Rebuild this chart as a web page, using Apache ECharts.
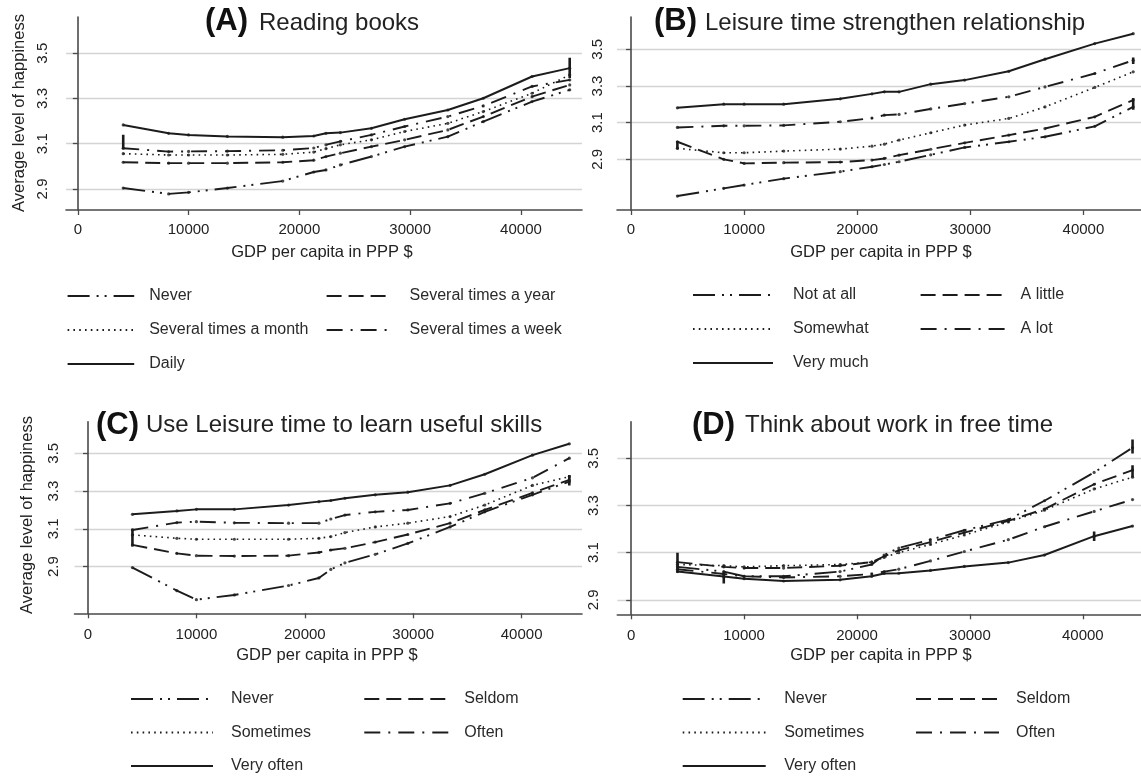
<!DOCTYPE html>
<html><head><meta charset="utf-8">
<script src="https://cdn.jsdelivr.net/npm/echarts@6/dist/echarts.min.js"></script>
<style>html,body{margin:0;padding:0;background:#fff}#c{width:1141px;height:778px}</style>
</head><body><div id="c"></div>
<script>
// ---------- data ----------
const gdp = [4100, 8200, 10000, 13500, 18500, 21300, 22400, 23700, 26500, 29500, 33400, 36600, 41000, 44400];
const xTickValues = [0, 10000, 20000, 30000, 40000];
const yTickValues = [2.9, 3.1, 3.3, 3.5];

const titlesTag = ['(A)', '(B)', '(C)', '(D)'];
const titlesText = ['Reading books', 'Leisure time strengthen relationship', 'Use Leisure time to learn useful skills', 'Think about work in free time'];
const xAxisTitle = 'GDP per capita in PPP $';
const yAxisTitle = 'Average level of happiness';

const aNames = ['Never', 'Several times a year', 'Several times a month', 'Several times a week', 'Daily'];
const aNever = [2.904, 2.878, 2.885, 2.904, 2.935, 2.975, 2.984, 3.006, 3.043, 3.087, 3.131, 3.198, 3.286, 3.338];
const aYear  = [3.018, 3.014, 3.014, 3.014, 3.018, 3.027, 3.043, 3.058, 3.087, 3.117, 3.161, 3.220, 3.308, 3.360];
const aMonth = [3.056, 3.050, 3.050, 3.050, 3.053, 3.063, 3.078, 3.095, 3.117, 3.154, 3.190, 3.242, 3.323, 3.404];
const aWeek  = [3.080, 3.065, 3.066, 3.067, 3.071, 3.081, 3.095, 3.110, 3.139, 3.176, 3.220, 3.267, 3.353, 3.382];
const aDaily = [3.183, 3.146, 3.139, 3.132, 3.129, 3.134, 3.146, 3.149, 3.168, 3.208, 3.249, 3.301, 3.397, 3.434];

const bNames = ['Not at all', 'A little', 'Somewhat', 'A lot', 'Very much'];
const bNot    = [2.700, 2.742, 2.760, 2.795, 2.833, 2.860, 2.872, 2.887, 2.925, 2.965, 2.996, 3.023, 3.080, 3.186];
const bLittle = [2.996, 2.900, 2.878, 2.882, 2.885, 2.896, 2.905, 2.923, 2.955, 2.990, 3.032, 3.068, 3.132, 3.223];
const bSome   = [2.960, 2.936, 2.936, 2.945, 2.956, 2.972, 2.983, 3.005, 3.045, 3.087, 3.123, 3.186, 3.292, 3.377];
const bLot    = [3.074, 3.083, 3.083, 3.085, 3.105, 3.125, 3.141, 3.145, 3.175, 3.204, 3.241, 3.295, 3.368, 3.440];
const bVery   = [3.181, 3.201, 3.201, 3.201, 3.230, 3.257, 3.268, 3.268, 3.310, 3.332, 3.380, 3.446, 3.531, 3.585];

const cNames = ['Never', 'Seldom', 'Sometimes', 'Often', 'Very often'];
const cNever  = [2.895, 2.773, 2.725, 2.750, 2.800, 2.840, 2.885, 2.920, 2.965, 3.023, 3.110, 3.190, 3.280, 3.350];
const cSeldom = [3.015, 2.970, 2.958, 2.956, 2.958, 2.975, 2.988, 2.997, 3.030, 3.070, 3.130, 3.200, 3.290, 3.359];
const cSome   = [3.068, 3.050, 3.045, 3.045, 3.045, 3.050, 3.059, 3.080, 3.110, 3.130, 3.165, 3.226, 3.330, 3.376];
const cOften  = [3.094, 3.133, 3.138, 3.132, 3.130, 3.130, 3.152, 3.173, 3.190, 3.200, 3.235, 3.288, 3.370, 3.474];
const cVery   = [3.177, 3.195, 3.203, 3.203, 3.226, 3.244, 3.250, 3.262, 3.280, 3.294, 3.330, 3.389, 3.490, 3.550];

const dNames = ['Never', 'Seldom', 'Sometimes', 'Often', 'Very often'];
const dNever  = [3.040, 3.020, 3.000, 3.000, 3.020, 3.050, 3.090, 3.120, 3.155, 3.195, 3.240, 3.320, 3.440, 3.545];
const dSeldom = [3.060, 3.040, 3.035, 3.035, 3.045, 3.060, 3.085, 3.110, 3.145, 3.185, 3.235, 3.285, 3.390, 3.450];
const dSome   = [3.050, 3.045, 3.040, 3.045, 3.050, 3.060, 3.080, 3.100, 3.135, 3.175, 3.230, 3.280, 3.370, 3.420];
const dOften  = [3.030, 3.010, 3.000, 2.995, 3.000, 3.010, 3.020, 3.030, 3.065, 3.105, 3.155, 3.210, 3.275, 3.325];
const dVery   = [3.020, 2.999, 2.990, 2.980, 2.985, 3.000, 3.012, 3.013, 3.025, 3.042, 3.058, 3.090, 3.170, 3.213];

// short vertical end bars seen on the curves: [panel, gdp, low, high]
const endBars = [
  [0, 4100, 3.075, 3.140], [0, 44400, 3.390, 3.480],
  [1, 4100, 2.955, 3.000], [1, 44400, 3.420, 3.455], [1, 44400, 3.170, 3.235],
  [2, 4100, 3.006, 3.100], [2, 44400, 3.330, 3.385],
  [3, 4100, 3.015, 3.100], [3, 8200, 2.970, 3.020], [3, 41000, 3.150, 3.190],
  [3, 44400, 3.520, 3.580], [3, 44400, 3.420, 3.470]
];

// ---------- layout & styles ----------
const panelSeries = [
  [aNever, aYear, aMonth, aWeek, aDaily],
  [bNot, bLittle, bSome, bLot, bVery],
  [cNever, cSeldom, cSome, cOften, cVery],
  [dNever, dSeldom, dSome, dOften, dVery]
];
const panelNames = [aNames, bNames, cNames, dNames];

const layout = [
  {grid: {left: 66, top: 17, width: 516, height: 193}, x: [-1065, 45510], y: [2.807, 3.660], ylm: 16, xlm: 12,
   tag: [205, 21], title: [259, 23.5], xt: [322, 252], yt: [19, 113],
   leg: [{left: 66.6, w: 66.6, pad: 10}, {left: 325.6, w: 66, pad: 12}], legTop: 288, legGap: 18},
  {grid: {left: 617, top: 17, width: 524, height: 193}, x: [-1240, 45090], y: [2.624, 3.676], ylm: 12, xlm: 12,
   tag: [654, 21], title: [705, 23.5], xt: [881, 252], yt: null,
   leg: [{left: 692, w: 80, pad: 15}, {left: 919.6, w: 84, pad: 11}], legTop: 287, legGap: 18},
  {grid: {left: 74.5, top: 421.7, width: 507.5, height: 191.6}, x: [-1245, 45570], y: [2.653, 3.667], ylm: 13, xlm: 14,
   tag: [96, 425], title: [146, 425], xt: [327, 655], yt: [27.7, 515],
   leg: [{left: 130, w: 82, pad: 13}, {left: 363.3, w: 85, pad: 10}], legTop: 691, legGap: 17.5},
  {grid: {left: 617.3, top: 421.7, width: 523.7, height: 192.6}, x: [-1230, 45150], y: [2.839, 3.655], ylm: 16, xlm: 14,
   tag: [692, 425], title: [745, 425], xt: [881, 655], yt: null,
   leg: [{left: 681.7, w: 83, pad: 13.5}, {left: 915, w: 83, pad: 12}], legTop: 691, legGap: 17.5}
];

const INK = '#1c1c1c';
const dashStyles = [
  {type: [22, 7, 2, 6, 2, 7], width: 1.9},   // long dash-dot-dot
  {type: [15, 7], width: 1.9},               // dashed
  {type: [1.6, 4.2], width: 1.6},            // dotted
  {type: [16, 8, 2, 8], width: 1.9},         // dash-dot
  {type: 'solid', width: 2.0}                // solid
];

const FONT = 'Liberation Sans, Arial, Helvetica, sans-serif';

const option = {
  animation: false,
  backgroundColor: '#ffffff',
  grid: [], xAxis: [], yAxis: [], series: [], legend: [], graphic: []
};

layout.forEach((L, p) => {
  option.grid.push(Object.assign({containLabel: false}, L.grid));
  option.xAxis.push({
    type: 'value', gridIndex: p, min: L.x[0], max: L.x[1],
    axisLine: {show: true, onZero: false, lineStyle: {color: '#4a4a4a', width: 1.6}},
    axisTick: {show: true, length: 5, customValues: xTickValues, lineStyle: {color: '#4a4a4a', width: 1.3}},
    axisLabel: {customValues: xTickValues, margin: L.xlm, fontSize: 15, color: '#222', fontFamily: FONT,
                formatter: v => String(Math.round(v))},
    splitLine: {show: false}
  });
  option.yAxis.push({
    type: 'value', gridIndex: p, min: L.y[0], max: L.y[1],
    axisLine: {show: true, lineStyle: {color: '#4a4a4a', width: 1.6}},
    axisTick: {show: true, length: 5, customValues: yTickValues, lineStyle: {color: '#4a4a4a', width: 1.3}},
    axisLabel: {customValues: yTickValues, rotate: 90, margin: L.ylm, fontSize: 15, color: '#222', fontFamily: FONT,
                formatter: v => v.toFixed(1)},
    splitLine: {show: true, lineStyle: {color: '#d4d4d4', width: 1.3}}
  });
  const names = panelNames[p];
  panelSeries[p].forEach((vals, k) => {
    option.series.push({
      type: 'line', name: names[k], xAxisIndex: p, yAxisIndex: p,
      data: gdp.map((g, i) => [g, vals[i]]),
      symbol: 'none', showSymbol: false, smooth: false,
      lineStyle: {color: INK, width: dashStyles[k].width, type: dashStyles[k].type},
      itemStyle: {color: INK},
      z: 3
    });
    option.series.push({
      type: 'scatter', xAxisIndex: p, yAxisIndex: p,
      data: gdp.map((g, i) => [g, vals[i]]),
      symbolSize: 3.2, itemStyle: {color: INK}, silent: true, z: 4
    });
  });
  const cols = [[names[0], names[2], names[4]], [names[1], names[3]]];
  cols.forEach((items, c) => {
    option.legend.push({
      orient: 'vertical', left: L.leg[c].left, top: L.legTop, padding: 0,
      itemWidth: L.leg[c].w, itemHeight: 16, itemGap: L.legGap,
      data: items, selectedMode: false,
      itemStyle: {opacity: 0, borderWidth: 0},
      textStyle: {fontSize: 16, color: '#2a2a2a', fontFamily: FONT, lineHeight: 16, padding: [0, 0, 0, L.leg[c].pad]}
    });
  });
  option.graphic.push({type: 'text', x: L.tag[0], y: L.tag[1],
    style: {text: titlesTag[p], font: 'bold 31px ' + FONT, fill: '#111', align: 'left', verticalAlign: 'middle'}});
  option.graphic.push({type: 'text', x: L.title[0], y: L.title[1],
    style: {text: titlesText[p], font: '24px ' + FONT, fill: '#222', align: 'left', verticalAlign: 'middle'}});
  option.graphic.push({type: 'text', x: L.xt[0], y: L.xt[1],
    style: {text: xAxisTitle, font: '16.5px ' + FONT, fill: '#222', align: 'center', verticalAlign: 'middle'}});
  if (L.yt) {
    option.graphic.push({type: 'text', x: L.yt[0], y: L.yt[1], rotation: Math.PI / 2,
      style: {text: yAxisTitle, font: '16.5px ' + FONT, fill: '#222', align: 'center', verticalAlign: 'middle'}});
  }
});

endBars.forEach(b => {
  option.series.push({
    type: 'line', xAxisIndex: b[0], yAxisIndex: b[0],
    data: [[b[1], b[2]], [b[1], b[3]]],
    symbol: 'none', silent: true,
    lineStyle: {color: INK, width: 2.6, type: 'solid'}, z: 4
  });
});

const chart = echarts.init(document.getElementById('c'), null, {renderer: 'canvas'});
chart.setOption(option);
</script>
</body></html>
